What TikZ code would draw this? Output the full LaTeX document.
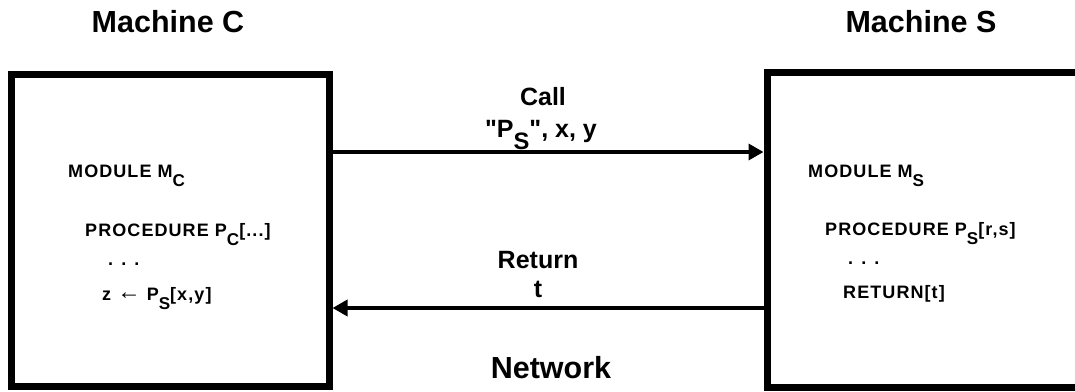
\documentclass[tikz,border=0pt]{standalone}
\usepackage{fontspec}
\setmainfont{Liberation Sans}
\newfontfamily\codefont[LetterSpace=6]{Liberation Sans}
\usetikzlibrary{arrows.meta}

% lowered subscript letter
\newcommand{\lsub}[1]{\raisebox{-0.5em}{\scalebox{0.95}{#1}}}

\begin{document}
\begin{tikzpicture}[x=1pt,y=-1pt,
  title/.style={font=\fontsize{30.5}{32}\selectfont\bfseries, inner sep=0, anchor=base},
  flow/.style={font=\fontsize{25}{27}\selectfont\bfseries, inner sep=0, anchor=base},
  code/.style={font=\codefont\fontsize{18}{20}\selectfont\bfseries, anchor=base west, inner sep=0},
  machine/.style={draw, line width=7pt, inner sep=0},
  msg/.style={line width=3.5pt, -{Triangle[length=15pt,width=16pt]}}]
\useasboundingbox (0,0) rectangle (1075,391);

% machine headings
\node[title] (tc) at (168,32) {Machine C};
\node[title] (ts) at (921,32) {Machine S};

% the two machines (the right one runs past the page edge)
\node[machine, minimum width=317.5pt, minimum height=312pt] (mc) at (170.25,230) {};
\node[machine, minimum width=353pt, minimum height=315pt] (ms) at (943.5,229.5) {};

% call and return messages
\coordinate (cy) at (0,152);
\coordinate (ry) at (0,308);
\draw[msg] (mc.east |- cy) -- (ms.west |- cy);
\draw[msg] (ms.west |- ry) -- (mc.east |- ry);

\node[flow] (call) at (543,105) {Call};
\node[flow] (args) at (541,137) {\textquotedbl P\lsub{S}\textquotedbl, x, y};
\node[flow] (ret) at (538,268) {Return};
\node[flow] (rv) at (538,297) {t};
\node[title] (net) at (551,378) {Network};

% client module
\node[code] (mcmod) at (68,177) {MODULE M\lsub{C}};
\node[code] (mcproc) at (85,236) {PROCEDURE P\lsub{C}[...]};
\node[code] (mcdots) at (108,265) {. . .};
\node[code] (mccall) at (102,300) {z \raisebox{0.1ex}{\scalebox{1.3}{←}} P\lsub{S}[x,y]};

% server module
\node[code] (msmod) at (808,177) {MODULE M\lsub{S}};
\node[code] (msproc) at (825,235) {PROCEDURE P\lsub{S}[r,s]};
\node[code] (msdots) at (848,264) {. . .};
\node[code] (msret) at (843,298) {RETURN[t]};
\end{tikzpicture}
\end{document}
